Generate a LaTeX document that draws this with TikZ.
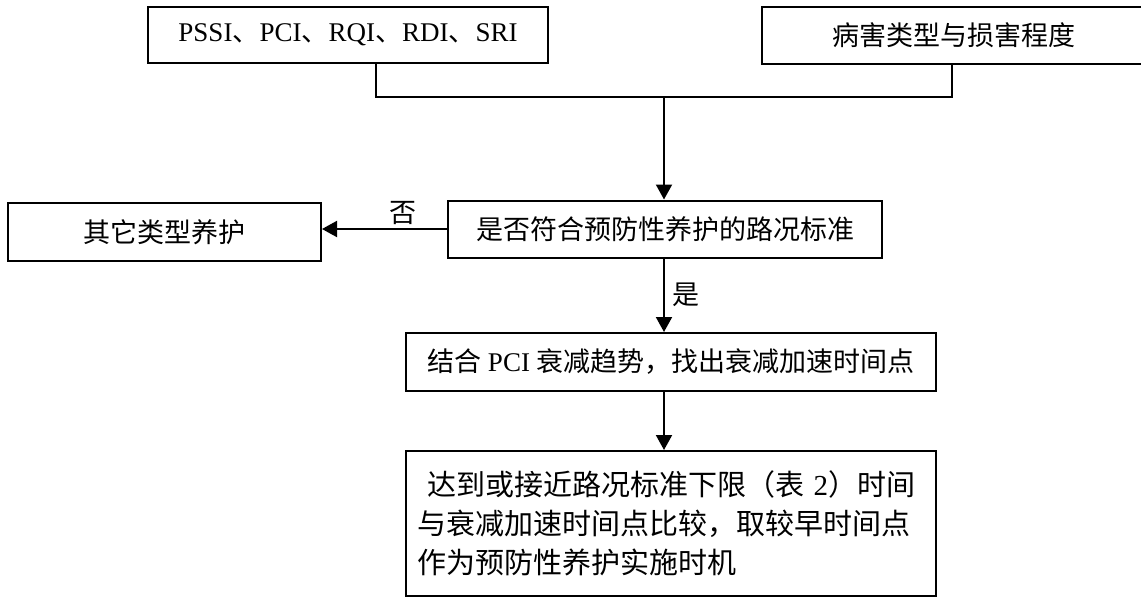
\documentclass[tikz,border=0pt]{standalone}
\usepackage{fontspec}
\setmainfont{Liberation Serif}
\newfontfamily\cjk{Noto Sans CJK SC}
\newcommand{\hz}[1]{{\cjk #1}}
\usepackage{tikz}
\usetikzlibrary{arrows.meta}
\tikzstyle{block} = [rectangle, draw, line width=2pt, inner sep=0pt,
    font=\fontsize{27}{39}\selectfont]
\tikzstyle{line} = [draw, line width=2pt, -{Triangle[length=15pt,width=16pt]}]
\tikzstyle{wire} = [draw, line width=2pt]
\tikzstyle{lbl} = [font=\fontsize{27}{39}\selectfont]

\begin{document}
\begin{tikzpicture}[x=1pt, y=-1pt]
    \useasboundingbox (0,0) rectangle (1141,597);
    % Place nodes
    % Inputs
    \node [block, minimum width=400pt, minimum height=56pt] (Idx) at (348,35)
        {PSSI\hz{、}PCI\hz{、}RQI\hz{、}RDI\hz{、}SRI};
    \node [block, minimum width=384pt, minimum height=57pt] (Dmg) at (954,35.5)
        {\hz{病害类型与损害程度}};
    
    % Decision and steps
    \node [block, minimum width=434pt, minimum height=57pt] (Chk) at (665,229)
        {\hz{是否符合预防性养护的路况标准}};
    \node [block, minimum width=313pt, minimum height=58pt] (Oth) at (164.5,232)
        {\hz{其它类型养护}};
    \node [block, minimum width=530pt, minimum height=58pt] (Pci) at (671,362)
        {\hz{结合} PCI \hz{衰减趋势，找出衰减加速时间点}};
    \node [block, minimum width=530pt, minimum height=145pt, text width=508pt,
        align=left, font=\fontsize{29}{39}\selectfont] (Tim) at (671,523.5)
        {\hspace*{10pt}\hz{达到或接近路况标准下限（表} 2\hz{）时间}\\
         \hz{与衰减加速时间点比较，取较早时间点}\\
         \hz{作为预防性养护实施时机}};
    
    % Junction
    \coordinate (Ja) at (376,97);
    \coordinate (Jb) at (952,97);
    \coordinate (J) at (664,97);
    
    % Draw edges
    \path [wire] (Idx.south -| Ja) -- (Ja) -- (Jb) -- (Dmg.south -| Jb);
    \path [line] (J) -- (J |- Chk.north);
    \path [line] (Chk.west) -- node[lbl, above, pos=0.35] {\hz{否}} (Chk.west -| Oth.east);
    \path [line] (J |- Chk.south) -- node[lbl, right, xshift=4pt] {\hz{是}} (J |- Pci.north);
    \path [line] (J |- Pci.south) -- (J |- Tim.north);

\end{tikzpicture}
\end{document}
